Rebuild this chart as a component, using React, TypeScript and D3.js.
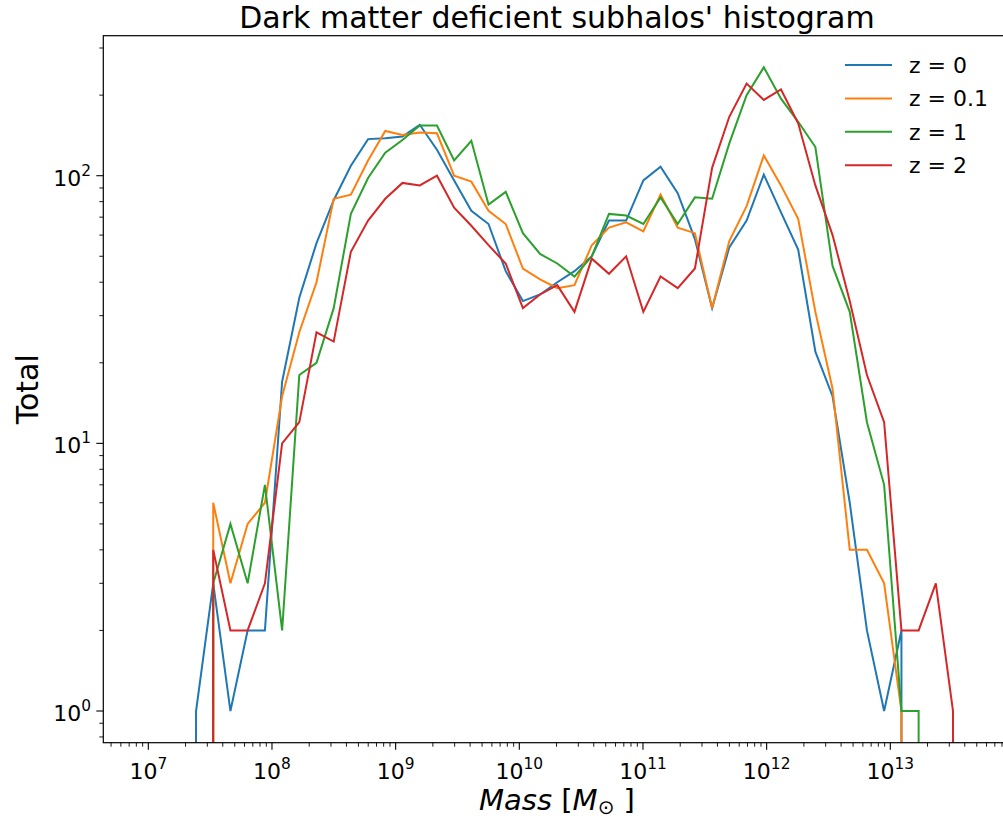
import React from "react";
import * as d3 from "d3";

// log10 of bin masses (M_sun)
const logMass = [
  7.247, 7.386, 7.525, 7.664, 7.803, 7.943, 8.082, 8.221, 8.36, 8.499, 8.638, 8.777,
  8.916, 9.055, 9.195, 9.334, 9.473, 9.612, 9.751, 9.89, 10.029, 10.168, 10.307,
  10.446, 10.586, 10.725, 10.864, 11.003, 11.142, 11.281, 11.42, 11.559, 11.698,
  11.838, 11.977, 12.116, 12.255, 12.394, 12.533, 12.672, 12.811, 12.95, 13.09,
  13.229, 13.368, 13.507, 13.646,
];

const countsZ0 = [
  0, 1, 3, 1, 2, 2, 17, 35, 56, 81, 109, 137, 138, 140, 155, 125, 96, 74, 66, 44, 34,
  36, 40, 44, 50, 68, 68, 96, 108, 86, 58, 32, 54, 68, 101, 73, 53, 22, 15, 6, 2, 1,
  2, 0, 0, 0, 0,
];
const countsZ01 = [
  0, 0, 6, 3, 5, 6, 15, 26, 40, 82, 85, 114, 147, 142, 145, 144, 100, 95, 74, 66, 45,
  41, 38, 39, 55, 64, 67, 62, 85, 64, 61, 32, 57, 77, 119, 92, 69, 31, 16, 4, 4, 3,
  1, 0, 0, 0, 0,
];
const countsZ1 = [
  0, 0, 3, 5, 3, 7, 2, 18, 20, 32, 72, 98, 122, 136, 154, 154, 114, 135, 78, 87, 61,
  51, 47, 42, 50, 72, 71, 66, 83, 66, 83, 82, 132, 200, 254, 194, 159, 128, 46, 31,
  12, 7, 1, 1, 0, 0, 0,
];
const countsZ2 = [
  0, 0, 4, 2, 2, 3, 10, 12, 26, 24, 52, 68, 82, 94, 92, 100, 76, 65, 55, 47, 32, 36,
  39, 31, 49, 43, 50, 31, 42, 38, 45, 107, 166, 221, 192, 210, 157, 92, 60, 34, 18,
  12, 2, 2, 3, 1, 0,
];

const seriesLabels = ["z = 0", "z = 0.1", "z = 1", "z = 2"];
const seriesColors = ["#1f77b4", "#ff7f0e", "#2ca02c", "#d62728"];
const seriesValues = [countsZ0, countsZ01, countsZ1, countsZ2];

const xMajorExps = [7, 8, 9, 10, 11, 12, 13];
const yMajorExps = [0, 1, 2];

const W = 1003;
const H = 820;
const L = 103.3;
const R = 1011.5;
const T = 35.7;
const B = 742.7;
const FONT = "DejaVu Sans";

export default function App() {
  const x = d3.scaleLog().domain([Math.pow(10, 6.636), Math.pow(10, 13.98)]).range([L, R]);
  const y = d3.scaleLog().domain([Math.pow(10, -0.1184), Math.pow(10, 2.5231)]).range([B, T]);

  const line = d3
    .line<number>()
    .x((_, i) => x(Math.pow(10, logMass[i])))
    .y((v) => (v > 0 ? y(v) : y(1e-300)));

  const [xd0, xd1] = x.domain();
  const xMinor: number[] = [];
  for (let k = 6; k <= 13; k++) {
    for (let m = 2; m <= 9; m++) {
      const v = m * Math.pow(10, k);
      if (v >= xd0 && v <= xd1) xMinor.push(v);
    }
  }
  const [yd0, yd1] = y.domain();
  const yMinor: number[] = [];
  for (let k = -1; k <= 2; k++) {
    for (let m = 2; m <= 9; m++) {
      const v = m * Math.pow(10, k);
      if (v >= yd0 && v <= yd1) yMinor.push(v);
    }
  }

  const majorLen = 7;
  const minorLen = 4;

  return (
    <svg
      width={W}
      height={H}
      style={{ position: "absolute", left: 0, top: 0, background: "#fff" }}
      fontFamily={FONT}
    >
      <defs>
        <clipPath id="plotClip">
          <rect x={L} y={T} width={R - L} height={B - T} />
        </clipPath>
      </defs>
      <rect x={0} y={0} width={W} height={H} fill="#fff" />

      <g clipPath="url(#plotClip)">
        {seriesValues.map((vals, si) => (
          <path
            key={si}
            d={line(vals) || ""}
            fill="none"
            stroke={seriesColors[si]}
            strokeWidth={2}
            strokeLinejoin="miter"
          />
        ))}
      </g>

      {/* spines */}
      <rect x={L} y={T} width={R - L} height={B - T} fill="none" stroke="#000" strokeWidth={1.2} />

      {/* x ticks */}
      {xMinor.map((v, i) => (
        <line key={"xm" + i} x1={x(v)} x2={x(v)} y1={B} y2={B + minorLen} stroke="#000" strokeWidth={0.9} />
      ))}
      {xMajorExps.map((e) => {
        const px = x(Math.pow(10, e));
        return (
          <g key={"xM" + e}>
            <line x1={px} x2={px} y1={B} y2={B + majorLen} stroke="#000" strokeWidth={1.1} />
            <text x={px} y={779} textAnchor="middle" fontSize={22} fill="#000">
              10<tspan fontSize={15.4} dy={-10}>{e}</tspan>
            </text>
          </g>
        );
      })}

      {/* y ticks */}
      {yMinor.map((v, i) => (
        <line key={"ym" + i} x1={L - minorLen} x2={L} y1={y(v)} y2={y(v)} stroke="#000" strokeWidth={0.9} />
      ))}
      {yMajorExps.map((e) => {
        const py = y(Math.pow(10, e));
        return (
          <g key={"yM" + e}>
            <line x1={L - majorLen} x2={L} y1={py} y2={py} stroke="#000" strokeWidth={1.1} />
            <text x={91} y={py + 10} textAnchor="end" fontSize={22} fill="#000">
              10<tspan fontSize={15.4} dy={-10}>{e}</tspan>
            </text>
          </g>
        );
      })}

      {/* title */}
      <text x={557} y={28} textAnchor="middle" fontSize={30} fill="#000">
        Dark matter deficient subhalos' histogram
      </text>

      {/* axis labels */}
      <text x={557} y={810} textAnchor="middle" fontSize={29} fill="#000">
        <tspan fontStyle="italic">Mass</tspan>
        <tspan> [</tspan>
        <tspan fontStyle="italic">M</tspan>
        <tspan fontSize={20} dy={4}>⊙</tspan>
        <tspan dy={-4}> ]</tspan>
      </text>
      <text
        transform={`translate(38,${(T + B) / 2}) rotate(-90)`}
        textAnchor="middle"
        fontSize={30}
        fill="#000"
      >
        Total
      </text>

      {/* legend */}
      {seriesLabels.map((lab, i) => {
        const ly = 65 + i * 33.4;
        return (
          <g key={"lg" + i}>
            <line x1={845} x2={892} y1={ly} y2={ly} stroke={seriesColors[i]} strokeWidth={2} />
            <text x={909} y={ly + 8} fontSize={22} fill="#000">
              {lab}
            </text>
          </g>
        );
      })}
    </svg>
  );
}
